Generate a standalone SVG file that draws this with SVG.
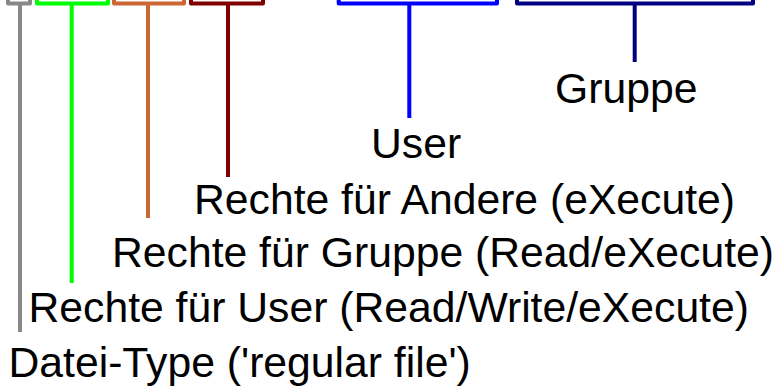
<svg xmlns="http://www.w3.org/2000/svg" width="774" height="387" viewBox="0 0 774 387">
<style>
.b{fill:none;stroke-width:4;stroke-linejoin:round;stroke-linecap:butt}
.t{font-family:"Liberation Sans",Arial,sans-serif;font-size:42.7px;fill:#000}
</style>
<rect width="774" height="387" fill="#fff"/>
<g id="connectors">
<path class="b" stroke="#888888" d="M8,-10 V3.5 H30 V-10 M20,3.5 V332"/>
<path class="b" stroke="#00ff00" d="M37,-10 V3.5 H108 V-10 M71.7,3.5 V283"/>
<path class="b" stroke="#cc6633" d="M114,-10 V3.5 H184 V-10 M148,3.5 V218"/>
<path class="b" stroke="#800000" d="M191,-10 V3.5 H263 V-10 M228,3.5 V177"/>
<path class="b" stroke="#0000ff" d="M338.7,-10 V3.5 H497 V-10 M409.3,3.5 V118"/>
<path class="b" stroke="#000080" d="M517,-10 V3.5 H753 V-10 M634.7,3.5 V62"/>
</g>
<g id="gruppe"><text class="t" x="555" y="103">Gruppe</text></g>
<g id="user"><text class="t" x="371" y="158">User</text></g>
<g id="andere"><text class="t" x="194" y="214">Rechte für Andere (eXecute)</text></g>
<g id="rechte-gruppe"><text class="t" x="112" y="267">Rechte für Gruppe (Read/eXecute)</text></g>
<g id="rechte-user"><text class="t" x="28.5" y="322">Rechte für User (Read/Write/eXecute)</text></g>
<g id="datei-type"><text class="t" x="8.5" y="377">Datei-Type ('regular file')</text></g>
</svg>
